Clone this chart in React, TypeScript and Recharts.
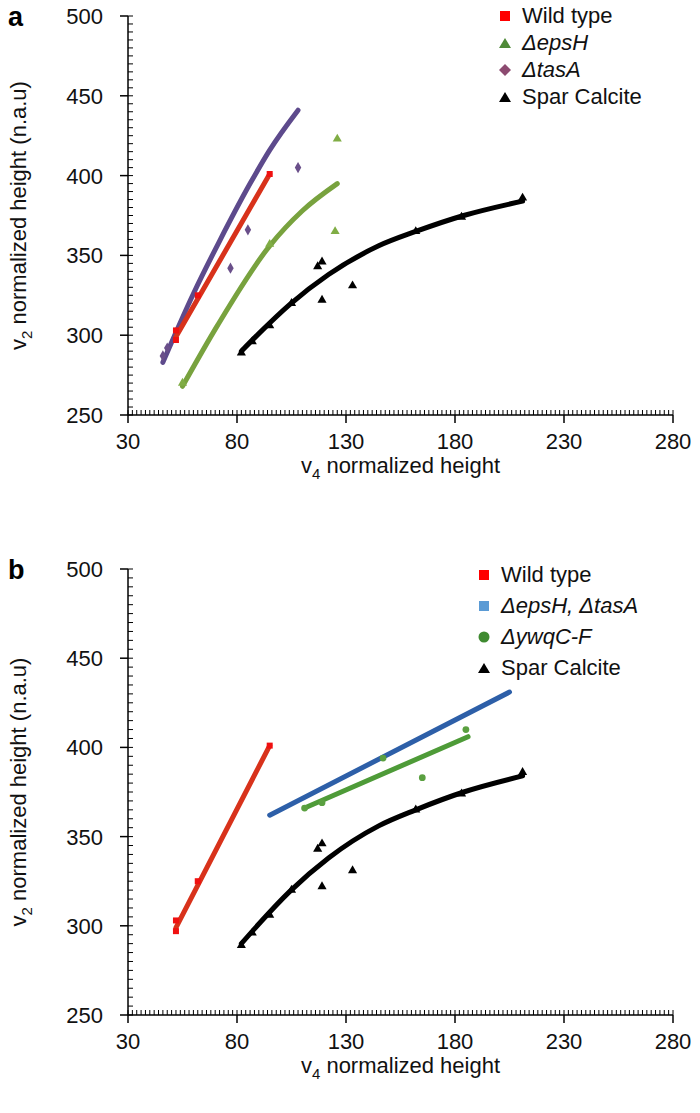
import { ComposedChart, Scatter, Line, XAxis, YAxis, ZAxis, Legend } from 'recharts';

type Pt = { x: number; y: number };

const FONT = '"Liberation Sans", Arial, Helvetica, sans-serif';

const X_LABELS = [30, 80, 130, 180, 230, 280];
const Y_LABELS = [250, 300, 350, 400, 450, 500];
const X_MINOR = Array.from({ length: 126 }, (_, i) => 30 + 2 * i);
const Y_MINOR = Array.from({ length: 51 }, (_, i) => 250 + 5 * i);

// measured points, shared by both panels
const wildType: Pt[] = [
  { x: 52, y: 303 },
  { x: 52, y: 297 },
  { x: 62, y: 325 },
  { x: 95, y: 401 },
];
const wildTypeFit: Pt[] = [
  { x: 52, y: 299 },
  { x: 95, y: 401 },
];
const spar: Pt[] = [
  { x: 82, y: 289 },
  { x: 87, y: 296 },
  { x: 95, y: 306 },
  { x: 105, y: 320 },
  { x: 117, y: 343 },
  { x: 119, y: 346 },
  { x: 119, y: 322 },
  { x: 133, y: 331 },
  { x: 162, y: 365 },
  { x: 183, y: 374 },
  { x: 211, y: 386 },
];
const sparFit: Pt[] = [
  { x: 82, y: 290 },
  { x: 90, y: 301 },
  { x: 104, y: 319 },
  { x: 122, y: 338 },
  { x: 145, y: 356 },
  { x: 162, y: 365 },
  { x: 184, y: 375 },
  { x: 211, y: 384 },
];

// panel a
const epsH: Pt[] = [
  { x: 55, y: 270 },
  { x: 95, y: 357 },
  { x: 125, y: 365 },
  { x: 126, y: 423 },
];
const epsHFit: Pt[] = [
  { x: 55, y: 268 },
  { x: 71, y: 306 },
  { x: 95, y: 356 },
  { x: 110, y: 378 },
  { x: 126, y: 395 },
];
const tasA: Pt[] = [
  { x: 46, y: 287 },
  { x: 48, y: 292 },
  { x: 77, y: 342 },
  { x: 85, y: 366 },
  { x: 108, y: 405 },
];
const tasAFit: Pt[] = [
  { x: 46, y: 283 },
  { x: 60, y: 326 },
  { x: 72, y: 359 },
  { x: 86, y: 395 },
  { x: 95, y: 416 },
  { x: 108, y: 441 },
];

// panel b
const epsHTasAFit: Pt[] = [
  { x: 95, y: 362 },
  { x: 205, y: 431 },
];
const ywqCF: Pt[] = [
  { x: 111, y: 366 },
  { x: 119, y: 369 },
  { x: 147, y: 394 },
  { x: 165, y: 383 },
  { x: 185, y: 410 },
];
const ywqCFFit: Pt[] = [
  { x: 111, y: 366 },
  { x: 186, y: 406 },
];

type LegendItem = { label: string; shape: string; color: string; italic: boolean };

const legendA: LegendItem[] = [
  { label: 'Wild type', shape: 'square', color: '#ff0000', italic: false },
  { label: 'ΔepsH', shape: 'triangle', color: '#4f8a38', italic: true },
  { label: 'ΔtasA', shape: 'diamond', color: '#8c4a70', italic: true },
  { label: 'Spar Calcite', shape: 'triangle', color: '#000', italic: false },
];
const legendB: LegendItem[] = [
  { label: 'Wild type', shape: 'square', color: '#ff0000', italic: false },
  { label: 'ΔepsH, ΔtasA', shape: 'square', color: '#5b9bd5', italic: true },
  { label: 'ΔywqC-F', shape: 'circle', color: '#3f8a30', italic: true },
  { label: 'Spar Calcite', shape: 'triangle', color: '#000', italic: false },
];

function XTick(props: any) {
  const { x, y, payload } = props;
  const v = payload.value;
  const major = X_LABELS.includes(v);
  return (
    <g>
      <line x1={x} x2={x} y1={y} y2={y - 5} stroke="#000" strokeWidth={1} />
      {major && <line x1={x} x2={x} y1={y} y2={y + 8} stroke="#000" strokeWidth={1.5} />}
      {major && (
        <text x={x} y={y + 34} textAnchor="middle" fontSize={22} fontFamily={FONT} fill="#111">
          {v}
        </text>
      )}
    </g>
  );
}

function YTick(props: any) {
  const { x, y, payload } = props;
  const v = payload.value;
  const major = Y_LABELS.includes(v);
  return (
    <g>
      <line x1={x} x2={x + 5} y1={y} y2={y} stroke="#000" strokeWidth={1} />
      {major && <line x1={x - 8} x2={x} y1={y} y2={y} stroke="#000" strokeWidth={1.5} />}
      {major && (
        <text x={x - 25} y={y + 8} textAnchor="end" fontSize={22} fontFamily={FONT} fill="#111">
          {v}
        </text>
      )}
    </g>
  );
}

function Marker({ shape, color }: { shape: string; color: string }) {
  let el;
  if (shape === 'square') el = <rect x={2} y={2} width={10} height={10} fill={color} />;
  else if (shape === 'triangle') el = <polygon points="7,2 13,12 1,12" fill={color} />;
  else if (shape === 'diamond') el = <polygon points="7,1 13,7 7,13 1,7" fill={color} />;
  else el = <circle cx={7} cy={7} r={5.5} fill={color} />;
  return (
    <svg width={14} height={14} style={{ display: 'block', marginRight: 10 }}>
      {el}
    </svg>
  );
}

function LegendBox({ items, gap }: { items: LegendItem[]; gap: number }) {
  return (
    <div style={{ fontFamily: FONT, fontSize: 22, color: '#111' }}>
      {items.map((it) => (
        <div key={it.label} style={{ display: 'flex', alignItems: 'center', height: gap }}>
          <Marker shape={it.shape} color={it.color} />
          <span style={{ fontStyle: it.italic ? 'italic' : 'normal', whiteSpace: 'nowrap' }}>{it.label}</span>
        </div>
      ))}
    </div>
  );
}

function Panel({
  letter,
  top,
  height,
  xAxisHeight,
  legend,
  legendPos,
  children,
}: {
  letter: string;
  top: number;
  height: number;
  xAxisHeight: number;
  legend: LegendItem[];
  legendPos: { top: number; left: number; gap: number };
  children: any;
}) {
  const yTitle = (props: any) => {
    const vb = props.viewBox;
    const cy = vb.y + vb.height / 2;
    return (
      <g>
        <text x={8} y={26} fontSize={27} fontWeight="bold" fontFamily={FONT} fill="#000">
          {letter}
        </text>
        <text
          transform={`translate(26, ${cy}) rotate(-90)`}
          textAnchor="middle"
          fontSize={22}
          fontFamily={FONT}
          fill="#111"
        >
          v<tspan fontSize={15} dy={6}>2</tspan>
          <tspan dy={-6}> normalized height (n.a.u)</tspan>
        </text>
      </g>
    );
  };
  const xTitle = (props: any) => {
    const vb = props.viewBox;
    return (
      <text x={vb.x + vb.width / 2} y={vb.y + 58} textAnchor="middle" fontSize={22} fontFamily={FONT} fill="#111">
        v<tspan fontSize={15} dy={6}>4</tspan>
        <tspan dy={-6}> normalized height</tspan>
      </text>
    );
  };
  return (
    <div style={{ position: 'absolute', left: 0, top }}>
      <ComposedChart width={700} height={height} margin={{ top: 16, right: 27, bottom: 0, left: 0 }}>
        <XAxis
          type="number"
          dataKey="x"
          domain={[30, 280]}
          ticks={X_MINOR}
          interval={0}
          tick={<XTick />}
          tickLine={false}
          tickSize={0}
          tickMargin={0}
          height={xAxisHeight}
          axisLine={{ stroke: '#000', strokeWidth: 1.5 }}
          allowDataOverflow
          label={xTitle}
        />
        <YAxis
          type="number"
          dataKey="y"
          domain={[250, 500]}
          ticks={Y_MINOR}
          interval={0}
          tick={<YTick />}
          tickLine={false}
          tickSize={0}
          tickMargin={0}
          width={128}
          axisLine={{ stroke: '#000', strokeWidth: 1.5 }}
          allowDataOverflow
          label={yTitle}
        />
        <ZAxis range={[36, 36]} />
        <Legend
          layout="vertical"
          align="center"
          verticalAlign="middle"
          content={() => <LegendBox items={legend} gap={legendPos.gap} />}
          wrapperStyle={{ position: 'absolute', top: legendPos.top, left: legendPos.left, width: 220 }}
        />
        {children}
      </ComposedChart>
    </div>
  );
}

const fitLine = (data: Pt[], color: string, name: string) => (
  <Line
    key={name}
    name={name}
    data={data}
    dataKey="y"
    type="monotone"
    stroke={color}
    strokeWidth={5}
    strokeLinecap="round"
    dot={false}
    activeDot={false}
    legendType="none"
    isAnimationActive={false}
  />
);

export default function App() {
  return (
    <div style={{ position: 'absolute', left: 0, top: 0, width: 700, height: 1113, background: '#fff' }}>
      <Panel
        letter="a"
        top={0}
        height={500}
        xAxisHeight={85}
        legend={legendA}
        legendPos={{ top: 2, left: 498, gap: 27 }}
      >
        <Scatter data={wildType} fill="#f01010" shape="square" isAnimationActive={false} />
        <Scatter data={epsH} fill="#80ad45" shape="triangle" isAnimationActive={false} />
        <Scatter data={tasA} fill="#6a4f8a" shape="diamond" isAnimationActive={false} />
        <Scatter data={spar} fill="#000" shape="triangle" isAnimationActive={false} />
        {fitLine(tasAFit, '#5d4a8c', 'tasAFit')}
        {fitLine(wildTypeFit, '#d8321b', 'wtFit')}
        {fitLine(epsHFit, '#78a23e', 'epsHFit')}
        {fitLine(sparFit, '#000', 'sparFit')}
      </Panel>
      <Panel
        letter="b"
        top={553}
        height={560}
        xAxisHeight={98}
        legend={legendB}
        legendPos={{ top: 6, left: 477, gap: 31 }}
      >
        <Scatter data={wildType} fill="#f01010" shape="square" isAnimationActive={false} />
        <Scatter data={ywqCF} fill="#5aa040" shape="circle" isAnimationActive={false} />
        <Scatter data={spar} fill="#000" shape="triangle" isAnimationActive={false} />
        {fitLine(wildTypeFit, '#d8321b', 'wtFit')}
        {fitLine(epsHTasAFit, '#2d5fa8', 'blueFit')}
        {fitLine(ywqCFFit, '#4e9b38', 'ywqFit')}
        {fitLine(sparFit, '#000', 'sparFit')}
      </Panel>
    </div>
  );
}
